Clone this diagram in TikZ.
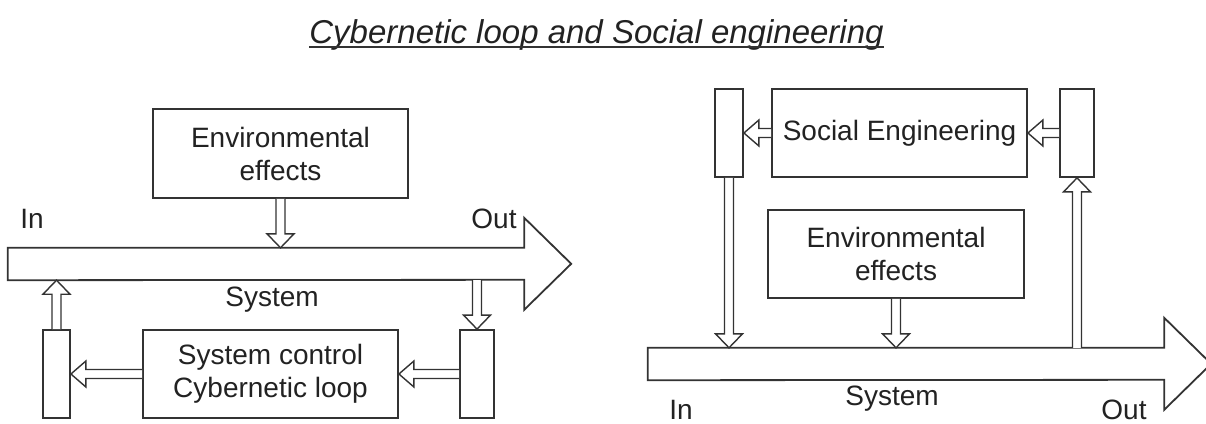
\documentclass[tikz,border=0pt]{standalone}
\usepackage{fontspec}
\setmainfont{Liberation Sans}
\usetikzlibrary{calc}
\definecolor{lc}{HTML}{333333}
\definecolor{tc}{HTML}{222222}
\tikzset{
  box/.style={draw=lc, line width=1.8pt, inner sep=0pt, align=center, text=tc,
    font=\fontsize{28}{33}\selectfont, minimum height=88pt},
  bar/.style={draw=lc, line width=1.8pt, inner sep=0pt, minimum height=88pt},
  lbl/.style={inner sep=0pt, text=tc, font=\fontsize{28}{33}\selectfont},
  blk/.style={draw=lc, line width=1.4pt, fill=white, line join=miter},
  sysarr/.style={draw=lc, line width=1.8pt, fill=white, line join=miter},
}
% vertical hollow block arrow, x taken from the start point
\newcommand{\vblk}[2]{\draw[blk] let \p1=#1, \p2=#2, \p3=($#2!14pt!#1$) in
  (\x1-4.5pt,\y1) -- (\x1-4.5pt,\y3) -- (\x1-13.5pt,\y3) -- (\x1,\y2)
  -- (\x1+13.5pt,\y3) -- (\x1+4.5pt,\y3) -- (\x1+4.5pt,\y1);}
% horizontal hollow block arrow, y taken from the start point
\newcommand{\hblk}[2]{\draw[blk] let \p1=#1, \p2=#2, \p3=($#2!15pt!#1$) in
  (\x1,\y1-4.5pt) -- (\x3,\y1-4.5pt) -- (\x3,\y1-13pt) -- (\x2,\y1)
  -- (\x3,\y1+13pt) -- (\x3,\y1+4.5pt) -- (\x1,\y1+4.5pt);}
\begin{document}
\begin{tikzpicture}[x=1pt,y=-1pt]
\useasboundingbox[fill=white] (0,0) rectangle (1206,423);

% title
\node[inner sep=0pt, text=tc, anchor=base, font=\fontsize{33}{38}\selectfont\itshape]
  (title) at (596.5,43) {Cybernetic loop and Social engineering};
\draw[lc, line width=1.8pt] ([yshift=-4pt]title.base west) -- ([yshift=-4pt]title.base east);

% ---------- left diagram ----------
\node[inner sep=0pt, minimum width=516pt, minimum height=32pt] (sys1) at (266,264) {};
\draw[sysarr] (sys1.north west) -- (sys1.north east) -- ++(0,-30) -- ++(47,46)
  -- ++(-47,46) -- ++(0,-30) -- (sys1.south west) -- cycle;
\node[lbl] (in1) at (32,219) {In};
\node[lbl] (out1) at (494,219) {Out};
\node[lbl] (systxt1) at (272,300) {System};

\node[box, minimum width=255pt, minimum height=89pt] (env1) at (280.5,153.5) {Environmental\\effects};
\node[bar, minimum width=27pt] (lr1) at (56.5,374) {};
\node[box, minimum width=255pt] (cyb) at (270.5,374) {System control\\Cybernetic loop};
\node[bar, minimum width=34pt] (rr1) at (477,374) {};

\vblk{(env1.south)}{(env1.south |- sys1.north)}
\vblk{(lr1.north)}{(lr1.north |- sys1.south)}
\vblk{(rr1.north |- sys1.south)}{(rr1.north)}
\hblk{(rr1.west)}{(cyb.east)}
\hblk{(cyb.west)}{(lr1.east)}

% ---------- right diagram ----------
\node[inner sep=0pt, minimum width=516pt, minimum height=32pt] (sys2) at (906,364) {};
\draw[sysarr] (sys2.north west) -- (sys2.north east) -- ++(0,-30) -- ++(47,46)
  -- ++(-47,46) -- ++(0,-30) -- (sys2.south west) -- cycle;
\node[lbl, anchor=base] (in2) at (681,419) {In};
\node[lbl, anchor=base] (out2) at (1124,419) {Out};
\node[lbl] (systxt2) at (892,399) {System};

\node[bar, minimum width=28pt] (lr2) at (729,133) {};
\node[box, minimum width=255pt] (se) at (899.5,133) {Social Engineering};
\node[bar, minimum width=34pt] (rr2) at (1077,133) {};
\node[box, minimum width=256pt] (env2) at (896,254) {Environmental\\effects};

\vblk{(lr2.south)}{(lr2.south |- sys2.north)}
\vblk{(env2.south)}{(env2.south |- sys2.north)}
\vblk{(rr2.south |- sys2.north)}{(rr2.south)}
\hblk{(rr2.west)}{(se.east)}
\hblk{(se.west)}{(lr2.east)}
\end{tikzpicture}
\end{document}
